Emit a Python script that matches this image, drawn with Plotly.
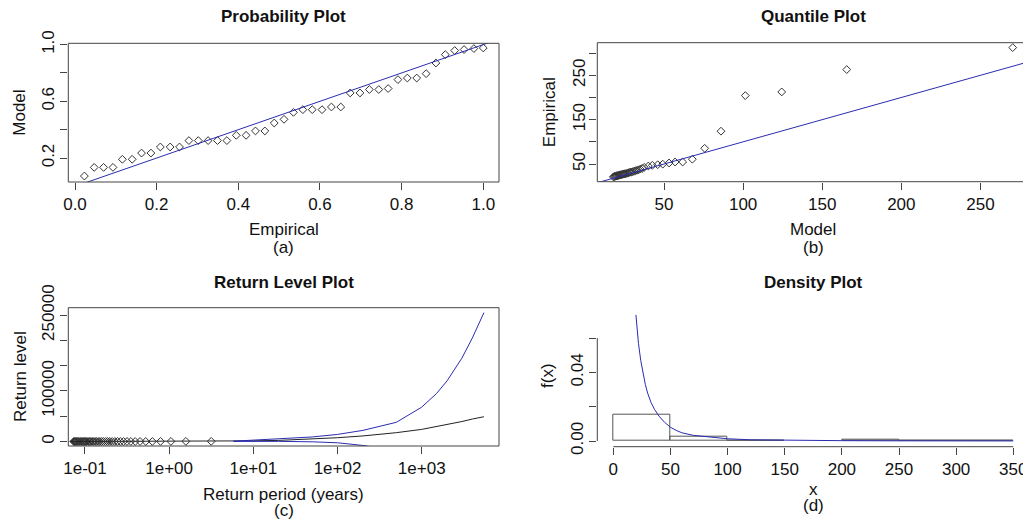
import plotly.graph_objects as go

# ---------------- data ----------------
# Probability plot: empirical vs model probabilities
emp_prob = [0.023, 0.047, 0.070, 0.093, 0.116, 0.140, 0.163, 0.186, 0.209, 0.233,
            0.256, 0.279, 0.302, 0.326, 0.349, 0.372, 0.395, 0.419, 0.442, 0.465,
            0.488, 0.512, 0.535, 0.558, 0.581, 0.605, 0.628, 0.651, 0.674, 0.698,
            0.721, 0.744, 0.767, 0.791, 0.814, 0.837, 0.860, 0.884, 0.907, 0.930,
            0.953, 0.977, 1.000]
model_prob = [0.073, 0.134, 0.134, 0.134, 0.191, 0.191, 0.235, 0.235, 0.278, 0.278,
              0.278, 0.323, 0.323, 0.323, 0.323, 0.323, 0.360, 0.360, 0.391, 0.391,
              0.447, 0.473, 0.522, 0.541, 0.541, 0.541, 0.560, 0.560, 0.659, 0.659,
              0.683, 0.683, 0.690, 0.753, 0.764, 0.764, 0.795, 0.870, 0.929, 0.958,
              0.965, 0.972, 0.976]

# Quantile plot: model quantiles vs empirical (sorted) observations
model_q = [18.0, 18.5, 19.0, 19.5, 20.0, 20.5, 21.0, 21.5, 22.0, 22.5,
           23.0, 23.6, 24.2, 24.8, 25.4, 26.0, 26.7, 27.4, 28.1, 28.8,
           29.6, 30.4, 31.2, 32.1, 33.0, 34.0, 35.0, 36.2, 37.5, 40.1,
           42.6, 46.0, 49.2, 53.2, 57.0, 61.8, 67.9, 75.7, 86.0, 101.4,
           124.4, 165.5, 270.4]
empirical_q = [21.0, 21.5, 22.0, 22.5, 23.0, 23.5, 24.0, 24.5, 25.0, 25.5,
               26.0, 26.5, 27.0, 27.5, 28.0, 28.5, 29.0, 30.0, 31.0, 31.5,
               32.0, 33.0, 34.0, 35.0, 36.0, 37.0, 38.5, 40.0, 42.5, 45.5,
               47.0, 48.4, 49.6, 52.3, 54.5, 54.5, 60.8, 85.4, 124.0, 204.2,
               212.5, 262.9, 312.5]

# Return level plot
emp_period = [3.16, 1.58, 1.05, 0.790, 0.632, 0.527, 0.451, 0.395, 0.351, 0.316,
              0.287, 0.263, 0.243, 0.226, 0.211, 0.198, 0.186, 0.176, 0.166, 0.158,
              0.150, 0.144, 0.137, 0.132, 0.126, 0.122, 0.117, 0.113, 0.109, 0.105,
              0.102, 0.099, 0.096, 0.093, 0.090, 0.088, 0.085, 0.083, 0.081, 0.079,
              0.077, 0.075, 0.0735]
rl_period = [0.066, 0.1, 0.2, 0.5, 1, 2, 5, 10, 20, 50, 100, 200, 500, 1000,
             2000, 3000, 4000, 5480]
rl_level = [20, 22, 27, 40, 60, 110, 700, 1300, 2200, 4500, 7500, 11000, 17500,
            24000, 33000, 39500, 44500, 49000]
ci_period = [5.8, 10, 20, 50, 100, 200, 500, 1000, 1500, 2000, 3000, 4000, 5480]
ci_upper = [600, 2500, 5000, 9000, 14000, 22000, 38000, 68000, 95000, 120000,
            165000, 205000, 255000]
ci_low_period = [5.8, 10, 20, 50, 100, 200, 300, 500]
ci_lower = [300, 600, 300, -600, -2500, -7800, -12500, -22000]

# Density plot: fitted density curve
dens_x = [19.8, 20.5, 22, 24, 26, 28, 30, 33, 36, 40, 45, 50, 55, 60, 70, 80,
          90, 100, 120, 150, 200, 250, 300, 350]
dens_y = [0.0735, 0.066, 0.057, 0.047, 0.039, 0.033, 0.028, 0.0225, 0.0185,
          0.0145, 0.0108, 0.0080, 0.0062, 0.0048, 0.0033, 0.0025, 0.0018,
          0.0013, 0.0007, 0.0004, 0.0002, 0.0001, 0.00006, 0.00004]

# ---------------- layout helpers ----------------
W, H = 1023, 520
FONT = "Liberation Sans, Arial, sans-serif"
TXT = "#111111"
BLUE = "#2b2bb0"
BOXC = "#444444"


def fx(p):
    return p / W


def fy(p):
    return 1 - p / H


def dom_x(a, b):
    return [fx(a), min(1.0, fx(b))]


def dom_y(top, bottom):
    return [fy(bottom), fy(top)]


pts = dict(symbol="diamond-open", size=6, color="#333333",
           line=dict(width=1, color="#333333"))

fig = go.Figure()

# (a) probability plot
fig.add_trace(go.Scatter(x=emp_prob, y=model_prob, mode="markers", marker=pts,
                         xaxis="x", yaxis="y"))
fig.add_trace(go.Scatter(x=[0, 1.1], y=[0, 1.1], mode="lines",
                         line=dict(color=BLUE, width=1), xaxis="x", yaxis="y"))

# (b) quantile plot
fig.add_trace(go.Scatter(x=model_q, y=empirical_q, mode="markers", marker=pts,
                         xaxis="x2", yaxis="y2"))
fig.add_trace(go.Scatter(x=[0, 350], y=[0, 350], mode="lines",
                         line=dict(color=BLUE, width=1), xaxis="x2", yaxis="y2"))

# (c) return level plot
fig.add_trace(go.Scatter(x=emp_period, y=sorted(empirical_q, reverse=True),
                         mode="markers", marker=pts, xaxis="x3", yaxis="y3"))
fig.add_trace(go.Scatter(x=rl_period, y=rl_level, mode="lines",
                         line=dict(color="#222222", width=1), xaxis="x3", yaxis="y3"))
fig.add_trace(go.Scatter(x=ci_period, y=ci_upper, mode="lines",
                         line=dict(color=BLUE, width=1), xaxis="x3", yaxis="y3"))
fig.add_trace(go.Scatter(x=ci_low_period, y=ci_lower, mode="lines",
                         line=dict(color=BLUE, width=1), xaxis="x3", yaxis="y3"))

# (d) density plot
fig.add_trace(go.Histogram(x=empirical_q, histnorm="probability density",
                           xbins=dict(start=0, end=350, size=50), autobinx=False,
                           marker=dict(color="rgba(0,0,0,0)", line=dict(color="#555555", width=1)),
                           xaxis="x4", yaxis="y4"))
fig.add_trace(go.Scatter(x=dens_x, y=dens_y, mode="lines",
                         line=dict(color=BLUE, width=1), xaxis="x4", yaxis="y4"))

tickfont = dict(family=FONT, size=17, color=TXT)
common = dict(showgrid=False, zeroline=False, showline=False, ticks="outside",
              ticklen=7, tickwidth=1, tickcolor=BOXC, tickfont=tickfont, tickmode="array",
              automargin=False, ticklabeloverflow="allow")

fig.update_layout(
    width=W, height=H, margin=dict(l=0, r=0, t=0, b=0, autoexpand=False),
    paper_bgcolor="white", plot_bgcolor="white", showlegend=False, bargap=0,
    xaxis=dict(domain=dom_x(68.3, 499), anchor="y", range=[-0.0164, 1.0385],
               tickvals=[0, 0.2, 0.4, 0.6, 0.8, 1.0],
               ticktext=["0.0", "0.2", "0.4", "0.6", "0.8", "1.0"], **common),
    yaxis=dict(domain=dom_y(43.3, 182), anchor="x", range=[0.031, 1.009],
               tickvals=[0.2, 0.4, 0.6, 0.8, 1.0], ticktext=["0.2", "", "0.6", "", "1.0"],
               tickangle=-90, **common),
    xaxis2=dict(domain=dom_x(597.3, 1023), anchor="y2", range=[7.84, 276.9],
                tickvals=[50, 100, 150, 200, 250],
                ticktext=["50", "100", "150", "200", "250"], **common),
    yaxis2=dict(domain=dom_y(42.7, 181.7), anchor="x2", range=[10.1, 323.5],
                tickvals=[50, 100, 150, 200, 250, 300],
                ticktext=["50", "", "150", "", "250", ""], tickangle=-90,
                ticklabelstandoff=-2, **common),
    xaxis3=dict(domain=dom_x(68.3, 499), anchor="y3", type="log", range=[-1.198, 3.918],
                tickvals=[0.1, 1, 10, 100, 1000],
                ticktext=["1e-01", "1e+00", "1e+01", "1e+02", "1e+03"], **common),
    yaxis3=dict(domain=dom_y(307.7, 446), anchor="x3", range=[-8900, 264800],
                tickvals=[0, 50000, 100000, 150000, 200000, 250000],
                ticktext=["0", "", "100000", "", "", "250000"], tickangle=-90, **common),
    xaxis4=dict(domain=dom_x(597.3, 1023), anchor="y4", range=[-14, 358.5],
                tickvals=[0, 50, 100, 150, 200, 250, 300, 350],
                ticktext=["0", "50", "100", "150", "200", "250", "300", "350"], **common),
    yaxis4=dict(domain=dom_y(312.7, 446.7), anchor="x4", range=[-0.00332, 0.0748],
                tickvals=[0, 0.02, 0.04, 0.06], ticktext=["0.00", "", "0.04", ""],
                tickangle=-90, **common),
)

# frames around panels (a), (b), (c); panel (b) runs past the right edge
line = dict(color=BOXC, width=1)
shapes = []
for ax in ["x", "x3"]:
    ya = "y" if ax == "x" else "y3"
    shapes.append(dict(type="rect", xref=f"{ax} domain", yref=f"{ya} domain",
                       x0=0, x1=1, y0=0, y1=1, line=line, layer="above"))
for (x0, y0, x1, y1) in [(0, 0, 1, 0), (0, 1, 1, 1), (0, 0, 0, 1)]:
    shapes.append(dict(type="line", xref="x2 domain", yref="y2 domain",
                       x0=x0, y0=y0, x1=x1, y1=y1, line=line, layer="above"))
# axis lines of the density panel span only the tick range
shapes.append(dict(type="line", xref="x4", yref="y4 domain", x0=0, x1=350, y0=0, y1=0,
                   line=line, layer="above"))
shapes.append(dict(type="line", xref="x4 domain", yref="y4", x0=0, x1=0, y0=0, y1=0.06,
                   line=line, layer="above"))
fig.update_layout(shapes=shapes)


def label(text, x, y, size=17, bold=False, angle=0):
    fig.add_annotation(text=f"<b>{text}</b>" if bold else text, x=fx(x), y=fy(y),
                       xref="paper", yref="paper", showarrow=False, textangle=angle,
                       xanchor="center", yanchor="middle",
                       font=dict(family=FONT, size=size, color=TXT))


# titles
label("Probability Plot", 283.7, 17, bold=True)
label("Quantile Plot", 813, 17, bold=True)
label("Return Level Plot", 283.7, 282, bold=True)
label("Density Plot", 813, 282, bold=True)
# x-axis titles and panel tags
label("Empirical", 283.7, 229)
label("(a)", 283.7, 247)
label("Model", 813, 229)
label("(b)", 813, 247)
label("Return period (years)", 283.7, 494)
label("(c)", 283.7, 510)
label("x", 813, 489)
label("(d)", 813, 505)
# y-axis titles
label("Model", 20, 112.7, angle=-90)
label("Empirical", 549, 112.2, angle=-90)
label("Return level", 20, 377, angle=-90)
label("f(x)", 547, 376, angle=-90)

fig.write_html("out.html", config={"displayModeBar": False})
